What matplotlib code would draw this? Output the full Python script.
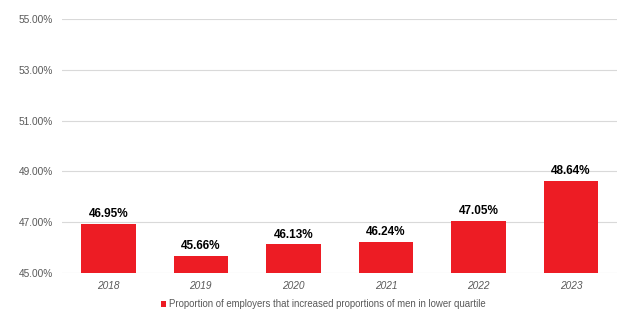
import matplotlib
matplotlib.use("Agg")
import matplotlib.pyplot as plt
from matplotlib.ticker import FuncFormatter

years = ["2018", "2019", "2020", "2021", "2022", "2023"]
values = [46.95, 45.66, 46.13, 46.24, 47.05, 48.64]
yticks = [45, 47, 49, 51, 53, 55]
series_name = "Proportion of employers that increased proportions of men in lower quartile"

plt.rcParams['font.family'] = ['Liberation Sans', 'DejaVu Sans']

fig = plt.figure(figsize=(6.24, 3.33), dpi=100)
ax = fig.add_axes([0.0994, 0.18, 0.8896, 0.763])

x = range(len(years))
bars = ax.bar(x, values, width=0.59, color="#ED1C24", label=series_name, zorder=3)
ax.set_ylim(45, 55)
ax.set_xlim(-0.5, len(years) - 0.5)
ax.set_yticks(yticks)
ax.yaxis.set_major_formatter(FuncFormatter(lambda v, p: f"{v:.2f}%"))
ax.set_xticks(list(x))
ax.set_xticklabels(years, fontstyle="italic")
ax.tick_params(axis="both", length=0, labelsize=7.3, colors="#595959")
ax.tick_params(axis="y", pad=6.5)
ax.tick_params(axis="x", pad=6)
ax.grid(axis="y", color="#D9D9D9", linewidth=0.8, zorder=0)
for s in ax.spines.values():
    s.set_visible(False)

for xi, v in zip(x, values):
    ax.text(xi, v + 0.15, f"{v:.2f}%", ha="center", va="bottom",
            fontsize=8.5, fontweight="bold", color="#000000")

leg = fig.legend(loc="center", bbox_to_anchor=(0.518, 0.087), frameon=False,
                 fontsize=6.9, handlelength=0.6, handleheight=0.6, handletextpad=0.3)
for t in leg.get_texts():
    t.set_color("#595959")

fig.savefig("out.png", dpi=100)
